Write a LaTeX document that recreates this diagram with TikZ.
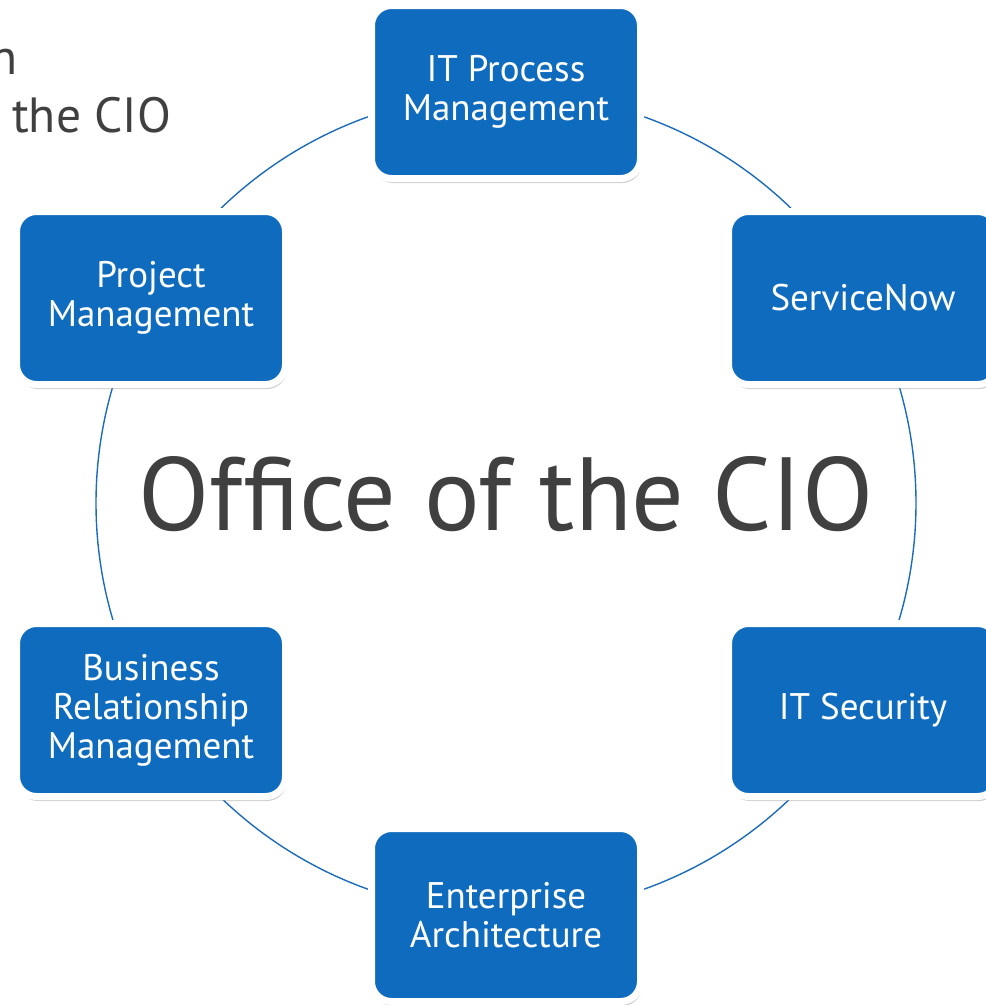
\documentclass[tikz,border=0pt]{standalone}
\usepackage{fontspec}
\setmainfont{PT Sans}
\usetikzlibrary{shadows}
\definecolor{boxblue}{RGB}{14,107,190}
\definecolor{ringblue}{RGB}{28,108,188}
\definecolor{textgray}{RGB}{64,64,64}
\begin{document}
\begin{tikzpicture}[x=1pt,y=-1pt,
  unit/.style={rounded corners=20pt, fill=boxblue, draw=white, line width=7pt,
    minimum width=269pt, minimum height=173pt, text=white, align=center,
    font=\fontsize{37}{39}\selectfont,
    drop shadow={shadow xshift=1.5pt, shadow yshift=-4.5pt, opacity=0.38}},
  ring/.style={circle, draw=ringblue, line width=1.4pt, minimum size=820pt, inner sep=0pt},
  title/.style={text=textgray, inner sep=0pt, font=\fontsize{104}{110}\selectfont},
  heading/.style={text=textgray, inner sep=0pt, font=\fontsize{49.5}{52}\selectfont}
]
\useasboundingbox (0,0) rectangle (986,1005);
\clip (0,0) rectangle (986,1005);

% heading fragment at the top left
\node[heading, anchor=base east] (h1) at (18,74) {n};
\node[heading, anchor=base west] (h2) at (12,132) {the CIO};

% ring joining the six units
\node[ring] (ring) at (506,503) {};

% centre title
\node[title, anchor=base] (office) at (506,530) {Office of the CIO};

% the six units around the ring
\node[unit] (itpm) at (506,92)  {IT Process\\Management};
\node[unit] (snow) at (863,298) {ServiceNow};
\node[unit] (itsec) at (863,710) {IT Security};
\node[unit] (ea)   at (506,915) {Enterprise\\Architecture};
\node[unit] (brm)  at (151,710) {Business\\Relationship\\Management};
\node[unit] (pm)   at (151,298) {Project\\Management};
\end{tikzpicture}
\end{document}
